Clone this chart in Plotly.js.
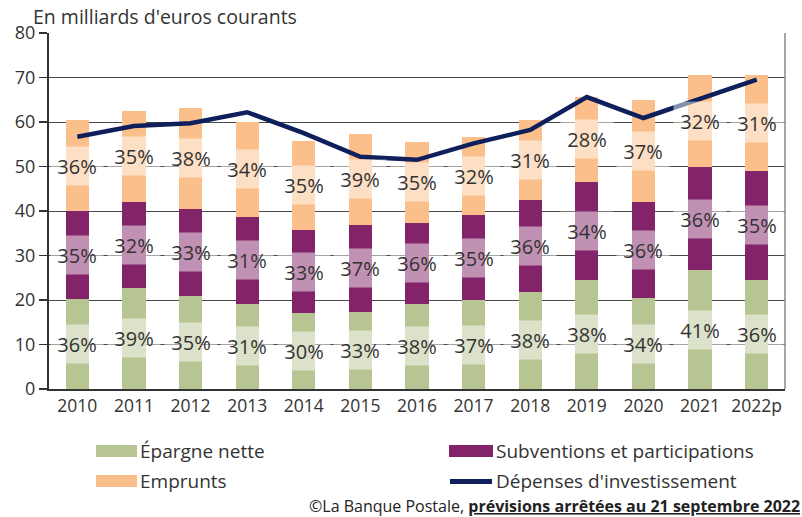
<!DOCTYPE html>
<html>
<head>
<meta charset="utf-8">
<script src="https://cdn.plot.ly/plotly-3.0.1.min.js"></script>
<style>html,body{margin:0;padding:0;background:#fff;}#chart{width:802px;height:517px;}</style>
</head>
<body>
<div id="chart"></div>
<script>
var years = ['2010','2011','2012','2013','2014','2015','2016','2017','2018','2019','2020','2021','2022p'];
var epargne = [20.2,22.8,21.0,19.2,17.0,17.4,19.2,20.0,21.9,24.6,20.4,26.7,24.6];
var subventions = [19.7,19.2,19.5,19.5,18.7,19.5,18.2,19.0,20.6,22.0,21.7,23.1,24.3];
var emprunts = [20.5,20.5,22.7,21.4,20.1,20.4,18.2,17.7,18.0,19.0,22.9,20.8,21.7];
var depenses = [56.7,59.1,59.7,62.2,57.5,52.2,51.5,55.2,58.2,65.6,60.9,65.1,69.5];
var pctEpargne = ['36%','39%','35%','31%','30%','33%','38%','37%','38%','38%','34%','41%','36%'];
var pctSub = ['35%','32%','33%','31%','33%','37%','36%','35%','36%','34%','36%','36%','35%'];
var pctEmp = ['36%','35%','38%','34%','35%','39%','35%','32%','31%','28%','37%','32%','31%'];
var seriesNames = ['Épargne nette','Subventions et participations','Emprunts',"Dépenses d'investissement"];

var cGreen = '#b7c593', cPurple = '#832369', cOrange = '#fbbf8b', cNavy = '#0e1f5c';
var FONT = 'Open Sans, Noto Sans, sans-serif';
var W = 802, H = 517, L = 49, R = 17, T = 33, B = 128;
function px(x){ return (x - L) / (W - L - R); }
function py(y){ return (H - B - y) / (H - T - B); }

var traces = [
  {type:'bar', name:seriesNames[0], x:years, y:epargne, marker:{color:cGreen}, width:0.41, showlegend:false, hoverinfo:'y'},
  {type:'bar', name:seriesNames[1], x:years, y:subventions, marker:{color:cPurple}, width:0.41, showlegend:false, hoverinfo:'y'},
  {type:'bar', name:seriesNames[2], x:years, y:emprunts, marker:{color:cOrange}, width:0.41, showlegend:false, hoverinfo:'y'},
  {type:'scatter', mode:'lines', name:seriesNames[3], x:years, y:depenses, line:{color:cNavy, width:4.5}, showlegend:false}
];

var annotations = [];
years.forEach(function(yr, i){
  var g = epargne[i], p = subventions[i], o = emprunts[i];
  var mids = [g/2, g + p/2, g + p + o/2];
  var txt = [pctEpargne[i], pctSub[i], pctEmp[i]];
  for (var k = 0; k < 3; k++) {
    // category index used as x (numeric-looking category names would be read as numbers)
    annotations.push({x:i, y:mids[k], xref:'x', yref:'y', text:txt[k], showarrow:false,
      font:{family:FONT, size:20, color:'#333'}, bgcolor:'rgba(255,255,255,0.5)',
      width:52, height:38, borderpad:0, align:'center', valign:'middle'});
  }
});

// legend (manual)
var shapes = [
  {type:'rect', xref:'paper', yref:'paper', x0:px(96), x1:px(137), y0:py(457), y1:py(445), fillcolor:cGreen, line:{width:0}},
  {type:'rect', xref:'paper', yref:'paper', x0:px(96), x1:px(137), y0:py(487), y1:py(475), fillcolor:cOrange, line:{width:0}},
  {type:'rect', xref:'paper', yref:'paper', x0:px(449), x1:px(493), y0:py(457), y1:py(445), fillcolor:cPurple, line:{width:0}},
  {type:'line', xref:'paper', yref:'paper', x0:px(450), x1:px(492), y0:py(481.5), y1:py(481.5), line:{color:cNavy, width:5}},
  {type:'line', xref:'paper', yref:'paper', x0:1, x1:1, y0:0, y1:1, line:{color:'#888', width:1.5}}
];
var legPos = [[139,451],[495,451],[139,481],[495,481]];
[0,1,2,3].forEach(function(k){
  annotations.push({xref:'paper', yref:'paper', x:px(legPos[k][0]), y:py(legPos[k][1]), xanchor:'left', yanchor:'middle',
    text:seriesNames[k], showarrow:false, font:{family:FONT, size:19, color:'#333'}, borderpad:0});
});
annotations.push({xref:'paper', yref:'paper', x:px(801), y:py(506), xanchor:'right', yanchor:'middle', showarrow:false, borderpad:0,
  text:'©La Banque Postale, <b><u>prévisions arrêtées au 21 septembre 2022</u></b>', font:{family:FONT, size:16, color:'#222'}});

var layout = {
  width:W, height:H,
  margin:{l:L, r:R, t:T, b:B, pad:0},
  paper_bgcolor:'#fff', plot_bgcolor:'#fff',
  barmode:'stack', bargap:0.59,
  showlegend:false,
  font:{family:FONT, color:'#333'},
  title:{text:"En milliards d'euros courants", x:33/W, xanchor:'left', xref:'container', y:1-17/H, yanchor:'middle', yref:'container',
    font:{family:FONT, size:19.5, color:'#333'}},
  xaxis:{type:'category', range:[-0.5,12.5], showgrid:false, showline:true, linecolor:'#333', linewidth:2,
    ticks:'', tickfont:{family:FONT, size:17.5, color:'#333'}, fixedrange:true},
  yaxis:{range:[0,80], dtick:10, showgrid:true, gridcolor:'#4a4a4a', gridwidth:1, zeroline:false,
    showline:true, linecolor:'#333', linewidth:2, ticks:'outside', ticklen:8, tickcolor:'#333', tickwidth:1.5,
    tickfont:{family:FONT, size:18, color:'#333'}, fixedrange:true},
  annotations:annotations,
  shapes:shapes
};
Plotly.newPlot('chart', traces, layout, {staticPlot:true, displayModeBar:false});
</script>
</body>
</html>
